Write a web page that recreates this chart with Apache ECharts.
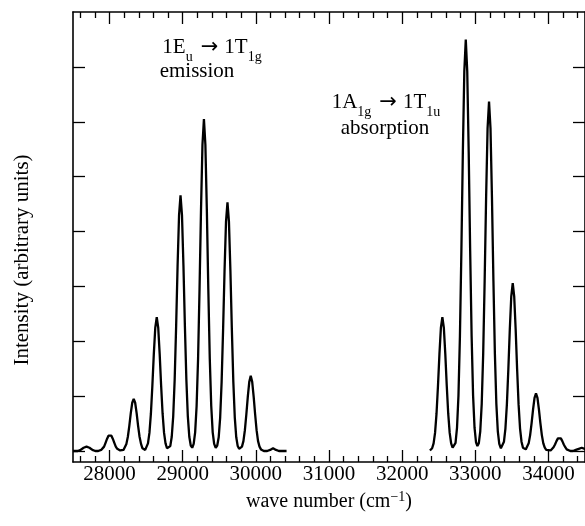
<!DOCTYPE html>
<html>
<head>
<meta charset="utf-8">
<script src="https://cdn.jsdelivr.net/npm/echarts@6/dist/echarts.min.js"></script>
<style>
html,body{margin:0;padding:0;background:#fff;}
#chart{width:585px;height:526px;}
</style>
</head>
<body>
<div id="chart"></div>
<script>
// ---- data ----
var emissionX = [27500,27565,27585,27605,27625,27645,27665,27685,27705,27725,27745,27765,27785,27805,
  27825,27845,27865,27885,27905,27925,27945,27965,27985,28005,28025,28045,28065,28085,28105,28125,28145,
  28167,28190,28210,28230,28250,28270,28290,28310,28330,28350,28370,28390,28410,28430,28450,28470,
  28487,28505,28525,28545,28565,28585,28605,28625,28645,28665,28685,28705,28725,28745,28765,28785,
  28808,28830,28850,28870,28890,28910,28930,28950,28970,28990,29010,29030,29050,29070,29090,29110,
  29130,29150,29170,29190,29210,29230,29250,29270,29290,29310,29330,29350,29370,29390,29410,29430,
  29451,29472,29492,29512,29532,29552,29572,29592,29612,29632,29652,29672,29692,29712,29732,29752,
  29771,29790,29810,29830,29850,29870,29890,29910,29930,29950,29970,29990,30010,30030,30050,30070,
  30090,30110,30155,30175,30195,30215,30235,30255,30275,30295,30315,30420];
var emissionY = [0,0,0.01,0.02,0.04,0.06,0.07,0.08,0.07,0.06,0.04,0.02,0.01,0,
  0,0,0.01,0.02,0.04,0.08,0.15,0.22,0.28,0.30,0.28,0.22,0.15,0.08,0.04,0.02,0.01,
  0.01,0.02,0.05,0.13,0.26,0.46,0.69,0.88,0.95,0.88,0.69,0.46,0.26,0.13,0.05,0.02,
  0.02,0.05,0.14,0.33,0.68,1.19,1.77,2.25,2.44,2.25,1.77,1.19,0.68,0.33,0.14,0.05,
  0.04,0.09,0.26,0.63,1.30,2.27,3.38,4.30,4.66,4.30,3.38,2.27,1.30,0.63,0.26,0.10,
  0.06,0.13,0.34,0.82,1.68,2.95,4.39,5.58,6.05,5.58,4.39,2.95,1.68,0.82,0.34,0.13,
  0.06,0.10,0.25,0.61,1.26,2.21,3.29,4.18,4.53,4.18,3.29,2.21,1.26,0.61,0.25,0.09,
  0.04,0.04,0.08,0.18,0.38,0.67,0.99,1.26,1.37,1.26,0.99,0.67,0.38,0.18,0.08,0.03,
  0.01,0,0,0.01,0.02,0.04,0.05,0.04,0.02,0.01,0,0];

var absorptionX = [32380,32410,32430,32450,32470,32490,32510,32530,32550,32570,32590,32610,32630,32650,32670,32690,
  32710,32730,32750,32770,32790,32810,32830,32850,32870,32890,32910,32930,32950,32970,32990,33010,
  33029,33048,33068,33088,33108,33128,33148,33168,33188,33208,33228,33248,33268,33288,33308,33328,
  33350,33372,33392,33412,33432,33452,33472,33492,33512,33532,33552,33572,33592,33612,33632,33652,
  33671,33690,33710,33730,33750,33770,33790,33810,33830,33850,33870,33890,33910,33930,33950,33970,
  33990,34030,34050,34070,34090,34110,34130,34150,34170,34190,34210,34230,34250,34270,
  34300,34335,34355,34375,34395,34415,34435,34455,34475,34495,34515];
var absorptionY = [0.01,0.05,0.14,0.33,0.68,1.19,1.77,2.25,2.44,2.25,1.77,1.19,0.68,0.33,0.14,0.06,
  0.06,0.15,0.42,1.01,2.09,3.65,5.45,6.92,7.50,6.92,5.45,3.65,2.09,1.01,0.42,0.16,
  0.09,0.14,0.36,0.86,1.77,3.10,4.62,5.88,6.37,5.88,4.62,3.10,1.77,0.86,0.36,0.13,
  0.05,0.07,0.17,0.41,0.85,1.49,2.22,2.82,3.06,2.82,2.22,1.49,0.85,0.41,0.17,0.06,
  0.03,0.03,0.06,0.14,0.29,0.51,0.76,0.97,1.05,0.97,0.76,0.51,0.29,0.14,0.06,0.02,
  0.01,0.01,0.03,0.07,0.12,0.18,0.23,0.25,0.23,0.18,0.12,0.07,0.03,0.01,
  0,0,0.01,0.02,0.03,0.04,0.06,0.06,0.06,0.04,0.03];

var xMajorTicks = [28000,29000,30000,31000,32000,33000,34000];
var xMinorTicks = [27600,27800,28200,28400,28600,28800,29200,29400,29600,29800,30200,30400,30600,30800,
  31200,31400,31600,31800,32200,32400,32600,32800,33200,33400,33600,33800,34200,34400];
var yTicks = [0,1,2,3,4,5,6,7];
var xRange = [27500, 34500];
var yRange = [-0.2, 8];

function pairs(xs, ys){ var o=[]; for(var i=0;i<xs.length;i++){ o.push([xs[i], ys[i]]); } return o; }

var SERIF = '"Liberation Serif", "DejaVu Serif", serif';
var chart = echarts.init(document.getElementById('chart'), null, {renderer:'canvas'});

function xAx(pos, ticks, len, showLine, showLabel){
  return {
    type:'value', position:pos, min:xRange[0], max:xRange[1],
    axisLine:{show:showLine, onZero:false, lineStyle:{color:'#000', width:1.6}},
    axisTick:{show:true, inside:true, length:len, customValues:ticks, lineStyle:{color:'#000', width:1.3}},
    axisLabel:{show:showLabel, customValues:ticks, color:'#000', fontFamily:SERIF, fontSize:21, margin:2,
      formatter:function(v){ return String(v); }},
    splitLine:{show:false}, minorTick:{show:false}
  };
}
var xAxes = [
  xAx('bottom', xMajorTicks, 12, true, true),
  xAx('bottom', xMinorTicks, 6, false, false),
  xAx('top', xMajorTicks, 12, true, false),
  xAx('top', xMinorTicks, 6, false, false)
];
xAxes[0].name = '{n|wave number (cm}{sup|\u22121}{n|)}';
xAxes[0].nameLocation = 'middle';
xAxes[0].nameGap = 28;
xAxes[0].nameTextStyle = {
  color:'#000', fontFamily:SERIF, fontSize:20,
  rich:{
    n:{fontFamily:SERIF, fontSize:20, color:'#000', lineHeight:22, verticalAlign:'bottom'},
    sup:{fontFamily:SERIF, fontSize:14, color:'#000', lineHeight:14, padding:[0,0,14,0], verticalAlign:'top'}
  }
};

function yAx(pos){
  return {
    type:'value', position:pos, min:yRange[0], max:yRange[1],
    axisLine:{show:true, onZero:false, lineStyle:{color:'#000', width:1.6}},
    axisTick:{show:true, inside:true, length:12, customValues:yTicks, lineStyle:{color:'#000', width:1.3}},
    axisLabel:{show:false},
    splitLine:{show:false}
  };
}
var yAxes = [yAx('left'), yAx('right')];

var richAnn = {
  n:{fontFamily:SERIF, fontSize:21, color:'#000', lineHeight:24, verticalAlign:'top'},
  s:{fontFamily:SERIF, fontSize:14, color:'#000', lineHeight:14, padding:[13,0,0,0], verticalAlign:'top'},
  a:{fontFamily:'"DejaVu Sans", sans-serif', fontSize:21, color:'#000', lineHeight:24, verticalAlign:'top', padding:[0,6,0,8]}
};

chart.setOption({
  animation:false,
  backgroundColor:'#fff',
  grid:{left:73, right:-1, top:12, bottom:64, containLabel:false},
  xAxis:xAxes,
  yAxis:yAxes,
  graphic:[
    {type:'text', x:212, y:37, style:{text:'{n|1E}{s|u}{a|\u2192}{n|1T}{s|1g}', rich:richAnn, align:'center', fill:'#000'}},
    {type:'text', x:197, y:61, style:{text:'emission', font:'21px ' + SERIF, align:'center', fill:'#000'}},
    {type:'text', x:386, y:92, style:{text:'{n|1A}{s|1g}{a|\u2192}{n|1T}{s|1u}', rich:richAnn, align:'center', fill:'#000'}},
    {type:'text', x:385, y:118, style:{text:'absorption', font:'21px ' + SERIF, align:'center', fill:'#000'}},
    {type:'text', x:22, y:260, rotation:Math.PI/2,
      style:{text:'Intensity (arbitrary units)', font:'21px ' + SERIF, align:'center', verticalAlign:'middle', fill:'#000'}}
  ],
  series:[
    {type:'line', name:'emission', xAxisIndex:0, yAxisIndex:0, data:pairs(emissionX, emissionY),
      showSymbol:false, symbol:'none', clip:true, lineStyle:{color:'#000', width:2.3}},
    {type:'line', name:'absorption', xAxisIndex:0, yAxisIndex:0, data:pairs(absorptionX, absorptionY),
      showSymbol:false, symbol:'none', clip:true, lineStyle:{color:'#000', width:2.3}}
  ]
});
</script>
</body>
</html>
